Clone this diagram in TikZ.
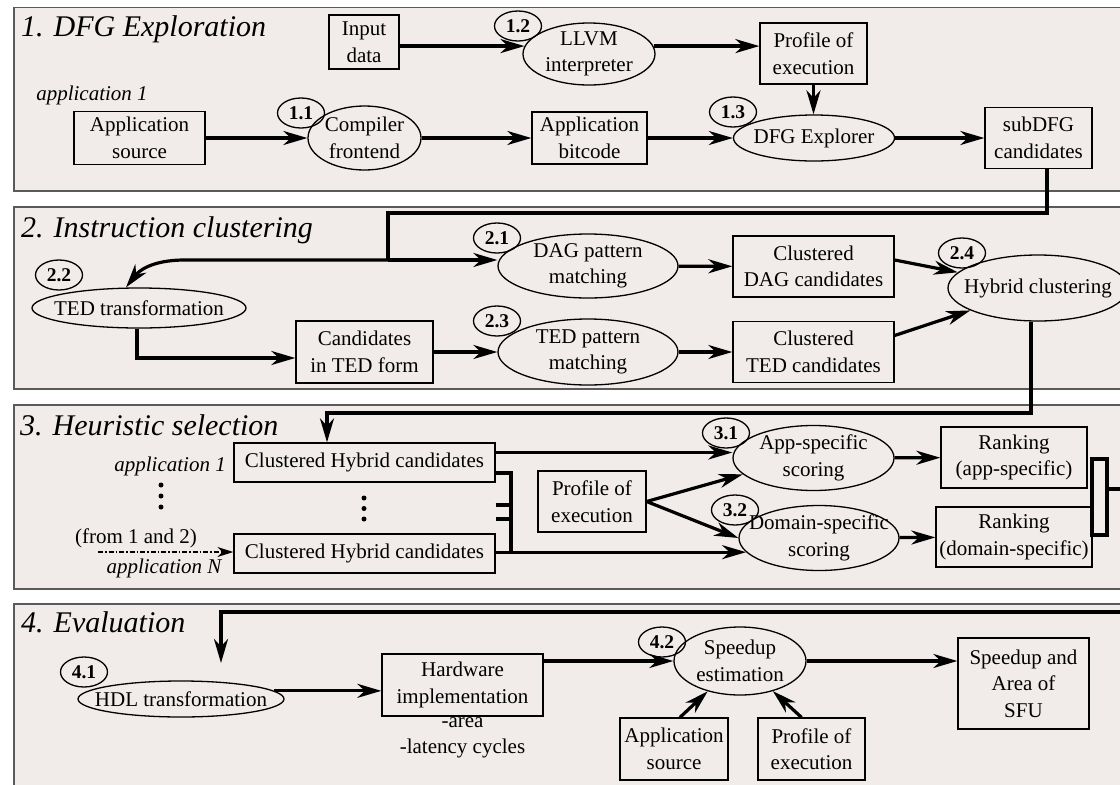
\documentclass[tikz,border=0pt]{standalone}
\usepackage{fontspec}
\setmainfont{Liberation Serif}
\usetikzlibrary{shapes.geometric,arrows.meta}
\definecolor{panelfill}{HTML}{F1ECEA}
\definecolor{panelline}{HTML}{5A5A5A}
\newcommand{\bodyfont}{\fontsize{21}{26.5}\selectfont}
\newcommand{\badgefont}{\fontsize{19.5}{21}\selectfont\bfseries}
\newcommand{\titlefont}{\fontsize{30}{36}\selectfont\itshape}
\begin{document}
\begin{tikzpicture}[x=1pt,y=-1pt,
  panel/.style={draw=panelline, line width=1.3pt, fill=panelfill},
  box/.style={draw, line width=1.3pt, rectangle, inner sep=0pt, align=center, font=\bodyfont},
  oval/.style={draw, line width=1.3pt, ellipse, inner xsep=-30pt, inner ysep=-12pt, align=center, font=\bodyfont},
  badge/.style={draw, line width=1.3pt, ellipse, inner xsep=-10pt, inner ysep=-6pt, minimum width=47pt, minimum height=30pt, font=\badgefont},
  title/.style={anchor=base west, inner sep=0pt, font=\titlefont},
  note/.style={inner sep=0pt, align=center, font=\bodyfont},
  inote/.style={note, font=\bodyfont\itshape},
  link/.style={line width=3.2pt},
  arr/.style={link, -{Stealth[length=24pt,width=14pt,inset=7.5pt]}},
  dashdot/.style={line width=1.5pt, dash pattern=on 5pt off 2pt on 1.5pt off 2pt, -{Stealth[length=16pt,width=10pt,inset=5pt]}},
]
\useasboundingbox (0,0) rectangle (1120,785);
\fill[white] (0,0) rectangle (1120,785);

% stage panels
\draw[panel] (14,7.5) rectangle (1140,191);
\draw[panel] (14,207) rectangle (1140,389);
\draw[panel] (14,405) rectangle (1140,589);
\draw[panel] (14,604) rectangle (1140,800);

\node[title] (t1) at (21,36) {1. DFG Exploration};
\node[title] (t2) at (21,237) {2. Instruction clustering};
\node[title] (t3) at (20,435) {3. Heuristic selection};
\node[title] (t4) at (21,632) {4. Evaluation};

% ---- stage 1
\node[box, minimum width=70pt, minimum height=54pt] (inp) at (364,42) {Input\\data};
\node[oval, minimum width=132pt, minimum height=62pt] (llvm) at (589,54) {LLVM\\interpreter};
\node[box, minimum width=107pt, minimum height=61pt] (prof1) at (813.5,53.5) {Profile of\\execution};
\node[inote] (app1) at (92,95) {application 1};
\node[box, minimum width=131pt, minimum height=53pt] (src1) at (139.5,138) {Application\\source};
\node[oval, minimum width=113pt, minimum height=64pt] (comp) at (364.5,138) {Compiler\\frontend};
\node[box, minimum width=115pt, minimum height=52pt] (bitc) at (589.5,138) {Application\\bitcode};
\node[oval, minimum width=161pt, minimum height=46pt] (dfg) at (814,138) {DFG Explorer};
\node[box, minimum width=107pt, minimum height=61pt] (sub) at (1038.5,138) {subDFG\\candidates};

\draw[arr] (inp.east |- llvm.173) -- (llvm.173);
\draw[arr] (llvm.7) -- (llvm.7 -| prof1.west);
\draw[arr] (prof1.south) -- (prof1.south |- dfg.north);
\draw[arr] (src1) -- (comp);
\draw[arr] (comp) -- (bitc);
\draw[arr] (bitc) -- (dfg);
\draw[arr] (dfg) -- (sub);

% ---- stage 2
\node[oval, minimum width=180pt, minimum height=64pt] (dag) at (588,266) {DAG pattern\\matching};
\node[box, minimum width=161pt, minimum height=61pt] (cdag) at (813.5,266.5) {Clustered\\DAG candidates};
\node[oval, minimum width=180pt, minimum height=66pt] (hyb) at (1038,288) {Hybrid clustering};
\node[oval, minimum width=214pt, minimum height=40pt] (ted) at (139,308) {TED transformation};
\node[box, minimum width=137pt, minimum height=62pt] (cted) at (364.5,352) {Candidates\\in TED form};
\node[oval, minimum width=180pt, minimum height=66pt] (tedp) at (588,352) {TED pattern\\matching};
\node[box, minimum width=161pt, minimum height=61pt] (ctedc) at (813.5,352) {Clustered\\TED candidates};

\coordinate (c1) at (388,213);
\coordinate (j) at (388,260);
\coordinate (c2) at (185,260);
\draw[link] ([xshift=8.5pt]sub.south) |- (c1) -- (j);
\draw[arr] (j) -- (j -| dag.west);
\draw[arr] (j) -- (c2) .. controls (150,260) and (138,272) .. ([xshift=-13pt]ted.north);
\draw[arr] (dag) -- (cdag);
\draw[arr] ([yshift=6.5pt]cdag.east) -- (hyb);
\draw[arr] ([yshift=16.5pt]ctedc.east) -- (hyb);
\draw[arr] ([xshift=-2pt]ted.south) |- ([yshift=-6pt]cted.west);
\draw[arr] (cted) -- (tedp);
\draw[arr] (tedp) -- (ctedc);

% ---- stage 3
\node[box, minimum width=261pt, minimum height=39pt] (chy1) at (364.5,462.5) {Clustered Hybrid candidates};
\node[box, minimum width=261pt, minimum height=39pt] (chy2) at (364.5,553.5) {Clustered Hybrid candidates};
\node[inote, anchor=east] (app1b) at (226,466) {application 1};
\node[note] (from) at (136,538) {(from 1 and 2)};
\node[inote] (appN) at (164,568) {application N};
\node[box, minimum width=108pt, minimum height=61pt] (prof3) at (592,501.5) {Profile of\\execution};
\node[oval, minimum width=161pt, minimum height=65pt] (apps) at (813.5,458) {App-specific\\scoring};
\node[oval, minimum width=160pt, minimum height=65pt] (doms) at (819,538) {Domain-specific\\scoring};
\node[box, minimum width=146pt, minimum height=61pt] (rapp) at (1014,457.5) {Ranking\\(app-specific)};
\node[box, minimum width=156pt, minimum height=60pt] (rdom) at (1014,537) {Ranking\\(domain-specific)};

\coordinate (c3) at (327,413);
\draw[arr] ([xshift=-7pt]hyb.south) |- (c3) -- (c3 |- chy1.north);

% elided applications
\foreach \yy in {485,496,507} \fill (161,\yy) circle (2.5pt);
\foreach \yy in {498,508.5,519} \fill (364,\yy) circle (2.5pt);
\coordinate (srcN) at (98,552);
\draw[dashdot] (srcN) -- (srcN -| chy2.west);

% candidate bus
\coordinate (bus) at (511,553);
\coordinate (stubA) at (511,505);
\coordinate (stubB) at (511,519);
\draw[link] ([yshift=-10.5pt]chy1.east) -| (bus);
\draw[link] (chy1.east |- stubA) -- (stubA);
\draw[link] (chy1.east |- stubB) -- (stubB);

\draw[arr] ([yshift=10pt]chy1.east) -- ([yshift=10pt]chy1.east -| apps.west);
\draw[arr] (chy2.east |- doms.191) -- (doms.191);
\draw[arr] (prof3.east) -- (apps.193);
\draw[arr] (prof3.east) -- (doms.west);
\draw[arr] (apps) -- (rapp);
\draw[arr] (doms) -- (rdom);

% ranking merge into evaluation
\coordinate (k1) at (1092,459);
\coordinate (k2) at (1107,535);
\coordinate (k3) at (1107,489);
\coordinate (k4) at (1132,612);
\coordinate (k5) at (221,663);
\draw[link] (k1) rectangle (k2);
\draw[arr] (k3) -| (k4) -| (k5);

% ---- stage 4
\node[oval, minimum width=206pt, minimum height=36pt] (hdl) at (181,699) {HDL transformation};
\node[box, minimum width=161pt, minimum height=62pt] (hw) at (462.5,685) {Hardware\\implementation};
\node[note] (hwnote) at (462.5,738) {-area\\-latency cycles};
\node[oval, minimum width=132pt, minimum height=68pt] (spd) at (740,661) {Speedup\\estimation};
\node[box, minimum width=131pt, minimum height=91pt] (sfu) at (1023.5,683.5) {Speedup and\\Area of\\SFU};
\node[box, minimum width=108pt, minimum height=62pt] (src4) at (674,749) {Application\\source};
\node[box, minimum width=107pt, minimum height=62pt] (prof4) at (811.5,749) {Profile of\\execution};

\draw[arr] (hdl.5) -- (hdl.5 -| hw.west);
\draw[arr] (hw.east |- spd.west) -- (spd.west);
\draw[arr] (spd.east) -- (spd.east -| sfu.west);
\draw[arr] ([xshift=6pt]src4.north) -- (spd);
\draw[arr] ([xshift=-10pt]prof4.north) -- (spd);

% step numbers
\node[badge] (b11) at (301,113) {1.1};
\node[badge] (b12) at (518,26) {1.2};
\node[badge] (b13) at (733,112) {1.3};
\node[badge] (b21) at (497,238) {2.1};
\node[badge] (b22) at (59,275) {2.2};
\node[badge] (b23) at (497,321) {2.3};
\node[badge] (b24) at (962,253) {2.4};
\node[badge] (b31) at (726,433) {3.1};
\node[badge] (b32) at (735,510) {3.2};
\node[badge] (b41) at (84,672) {4.1};
\node[badge] (b42) at (662,642) {4.2};
\end{tikzpicture}
\end{document}
